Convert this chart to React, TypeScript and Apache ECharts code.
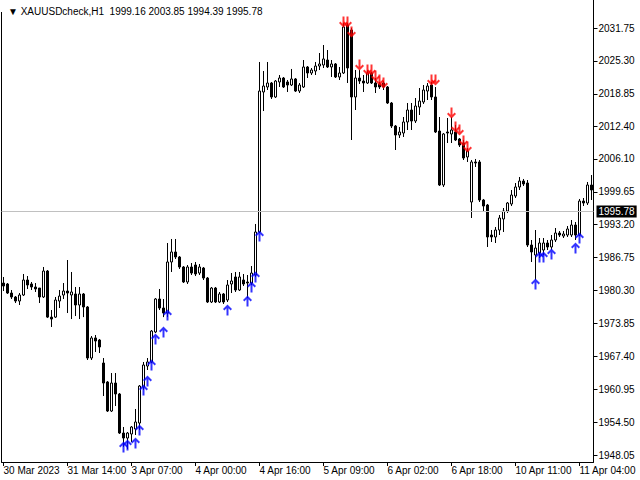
import React, { useEffect, useRef } from "react";
import * as echarts from "echarts";

const titleText = "▼ XAUUSDcheck,H1  1999.16 2003.85 1994.39 1995.78";
const xTickLabels = ["30 Mar 2023", "31 Mar 14:00", "3 Apr 07:00", "4 Apr 00:00", "4 Apr 16:00", "5 Apr 09:00", "6 Apr 02:00", "6 Apr 18:00", "10 Apr 11:00", "11 Apr 04:00"];
const yTickValues = [1948.05, 1954.5, 1960.95, 1967.4, 1973.85, 1980.3, 1986.75, 1993.2, 1999.65, 2006.1, 2012.4, 2018.85, 2025.3, 2031.75];
const lastPrice = 1995.78;

const opens = [
  1981.77, 1981.58, 1979.81, 1979.03, 1978.24, 1979.42, 1982.36, 1981.58, 1980.99, 1980.79,
  1979.03, 1984.12, 1975.09, 1975.09, 1978.24, 1979.42, 1980.20, 1979.42, 1979.62, 1977.46,
  1979.62, 1977.07, 1967.07, 1971.00, 1970.60, 1966.09, 1962.37, 1956.68, 1962.17, 1960.02,
  1952.37, 1951.39, 1952.18, 1953.16, 1954.33, 1961.39, 1965.50, 1966.29, 1972.17, 1978.64,
  1976.87, 1975.89, 1985.89, 1987.85, 1986.87, 1984.91, 1981.97, 1984.91, 1985.30, 1983.73,
  1984.71, 1982.75, 1978.05, 1980.79, 1978.05, 1979.62, 1978.44, 1981.58, 1982.95, 1980.40,
  1982.36, 1981.97, 1981.77, 1983.34, 1991.77, 2019.21, 2020.19, 2020.97, 2018.23, 2021.17,
  2021.95, 2021.17, 2020.58, 2021.76, 2019.40, 2020.19, 2024.11, 2022.93, 2023.32, 2024.30,
  2024.50, 2025.48, 2024.11, 2024.70, 2022.15, 2022.93, 2032.34, 2031.36, 2018.23, 2021.95,
  2021.36, 2020.97, 2022.93, 2020.97, 2020.78, 2020.97, 2020.19, 2017.05, 2012.54, 2010.78,
  2011.17, 2013.33, 2015.68, 2013.52, 2016.27, 2017.25, 2019.40, 2020.58, 2018.23, 2011.56,
  2000.98, 2011.37, 2010.98, 2011.37, 2010.00, 2009.21, 2006.47, 1997.65, 2005.49, 2005.49,
  1998.04, 1997.06, 1991.18, 1990.79, 1992.16, 1994.32, 1995.88, 1997.26, 1998.82, 2000.59,
  2001.76, 2001.37, 1989.22, 1987.26, 1987.65, 1988.24, 1989.61, 1988.83, 1990.20, 1991.57,
  1990.98, 1991.18, 1991.18, 1993.14, 1991.18, 1997.84, 1997.45, 2000.98,
];
const closes = [
  1981.18, 1979.81, 1979.03, 1978.24, 1979.42, 1982.36, 1981.38, 1980.99, 1980.60, 1979.03,
  1984.12, 1975.09, 1974.71, 1978.44, 1979.22, 1980.20, 1979.81, 1980.01, 1977.46, 1979.62,
  1977.07, 1967.07, 1971.00, 1970.40, 1969.23, 1962.17, 1956.68, 1962.17, 1960.02, 1952.37,
  1951.39, 1952.37, 1953.55, 1954.53, 1961.58, 1965.70, 1966.29, 1972.36, 1978.64, 1976.87,
  1975.89, 1985.89, 1987.85, 1986.87, 1984.91, 1981.97, 1984.91, 1983.73, 1983.54, 1984.91,
  1982.75, 1978.05, 1980.79, 1978.05, 1979.62, 1978.05, 1981.38, 1982.17, 1980.40, 1982.95,
  1981.58, 1981.77, 1983.73, 1991.77, 2019.40, 2020.38, 2020.97, 2018.23, 2021.36, 2021.95,
  2020.19, 2020.58, 2021.76, 2019.40, 2020.58, 2024.11, 2022.93, 2023.52, 2024.30, 2024.70,
  2025.68, 2024.11, 2024.70, 2022.15, 2022.93, 2031.95, 2023.91, 2018.23, 2021.95, 2021.36,
  2020.97, 2022.93, 2020.97, 2020.19, 2020.19, 2020.19, 2017.05, 2012.54, 2010.78, 2011.37,
  2013.33, 2015.68, 2013.52, 2016.46, 2017.44, 2019.60, 2020.38, 2018.23, 2011.37, 2000.98,
  2010.98, 2011.17, 2011.76, 2009.80, 2008.82, 2006.27, 2007.64, 2005.49, 2005.29, 1998.04,
  1996.86, 1990.79, 1990.79, 1992.16, 1994.51, 1995.88, 1997.45, 1999.02, 2000.59, 2001.76,
  2001.18, 1989.22, 1987.85, 1988.63, 1989.61, 1989.61, 1988.83, 1990.20, 1991.57, 1991.18,
  1991.38, 1992.36, 1993.14, 1991.18, 1997.84, 1997.45, 2000.98, 2000.00,
];
const lows = [
  1980.20, 1979.62, 1978.64, 1977.85, 1977.46, 1979.22, 1980.60, 1980.40, 1980.01, 1977.85,
  1978.83, 1974.91, 1973.15, 1974.91, 1976.87, 1978.64, 1975.89, 1974.71, 1975.30, 1974.71,
  1975.09, 1966.68, 1966.68, 1968.25, 1968.05, 1959.62, 1956.49, 1956.49, 1957.66, 1952.18,
  1949.63, 1949.24, 1950.61, 1951.98, 1952.96, 1960.80, 1964.72, 1966.09, 1971.97, 1976.48,
  1975.09, 1975.09, 1983.93, 1986.48, 1984.52, 1981.77, 1981.58, 1983.34, 1983.14, 1983.34,
  1982.36, 1977.85, 1977.85, 1977.85, 1977.85, 1977.66, 1978.05, 1979.81, 1980.01, 1980.20,
  1981.18, 1978.83, 1981.38, 1982.95, 1991.57, 2015.48, 2019.60, 2017.84, 2018.03, 2020.19,
  2019.99, 2019.21, 2020.38, 2019.21, 2019.01, 2019.99, 2021.95, 2022.54, 2022.54, 2023.52,
  2023.91, 2023.91, 2022.15, 2021.95, 2021.56, 2022.74, 2020.97, 2009.80, 2015.68, 2020.78,
  2019.21, 2020.78, 2020.78, 2019.01, 2019.80, 2019.60, 2016.86, 2012.15, 2007.84, 2010.19,
  2010.39, 2011.76, 2011.76, 2013.13, 2014.70, 2016.86, 2017.64, 2017.64, 2011.17, 2000.78,
  2000.59, 2009.21, 2009.21, 2009.60, 2008.43, 2005.88, 2005.49, 1994.51, 2004.51, 1997.65,
  1995.88, 1988.83, 1989.81, 1989.61, 1991.18, 1991.77, 1995.49, 1996.86, 1998.43, 2000.00,
  2000.78, 1988.83, 1985.89, 1982.36, 1986.67, 1987.26, 1988.24, 1988.24, 1989.81, 1990.79,
  1990.59, 1990.79, 1990.79, 1990.20, 1990.98, 1996.86, 1997.06, 1998.04,
];
const highs = [
  1982.95, 1981.77, 1980.40, 1979.22, 1979.81, 1983.54, 1983.14, 1981.97, 1981.77, 1980.79,
  1984.91, 1984.32, 1976.48, 1979.03, 1980.40, 1981.77, 1986.28, 1983.93, 1980.99, 1980.99,
  1979.81, 1977.26, 1971.38, 1971.58, 1970.80, 1967.07, 1962.56, 1964.13, 1964.13, 1960.21,
  1953.55, 1952.57, 1953.74, 1957.08, 1961.78, 1966.29, 1967.07, 1972.56, 1978.83, 1980.60,
  1978.64, 1989.61, 1990.40, 1990.40, 1987.06, 1985.10, 1985.30, 1985.69, 1985.89, 1985.50,
  1984.91, 1982.95, 1980.99, 1980.99, 1980.01, 1979.81, 1982.36, 1983.73, 1983.93, 1983.93,
  1983.54, 1983.34, 1985.10, 1993.34, 2025.09, 2023.32, 2025.09, 2021.17, 2021.56, 2022.54,
  2022.15, 2021.56, 2023.72, 2021.95, 2020.97, 2025.48, 2024.30, 2023.91, 2025.09, 2026.85,
  2028.42, 2027.44, 2025.48, 2024.89, 2024.11, 2032.73, 2032.73, 2031.75, 2023.52, 2023.52,
  2022.54, 2023.52, 2023.13, 2021.95, 2021.17, 2021.36, 2020.38, 2017.25, 2012.74, 2012.35,
  2014.31, 2017.05, 2017.05, 2018.03, 2019.99, 2020.58, 2020.97, 2021.17, 2020.19, 2014.31,
  2011.17, 2014.11, 2014.31, 2012.74, 2010.19, 2009.80, 2008.23, 2005.88, 2006.08, 2005.88,
  1998.24, 1997.26, 1992.16, 1992.75, 1995.10, 1996.47, 1997.65, 2000.00, 2001.37, 2002.55,
  2002.16, 2001.96, 1990.20, 1992.16, 1990.59, 1990.59, 1990.20, 1991.18, 1992.55, 1991.96,
  1991.96, 1992.94, 1994.12, 1993.73, 1998.24, 1998.43, 2001.57, 2002.94,
];

const upArrowBars = [30, 31, 33, 34, 35, 36, 37, 38, 40, 41, 56, 61, 62, 63, 64, 133, 134, 135, 137, 143, 144];
const upArrowPrices = [1949.63, 1950.02, 1950.41, 1952.96, 1960.80, 1962.56, 1965.70, 1970.80, 1972.17, 1975.50, 1976.48, 1978.24, 1980.99, 1982.95, 1990.98, 1981.58, 1986.87, 1986.87, 1987.46, 1988.63, 1990.59];
const downArrowBars = [85, 86, 87, 89, 91, 92, 93, 94, 95, 107, 108, 112, 113, 114, 115, 116];
const downArrowPrices = [2032.93, 2032.93, 2030.97, 2024.50, 2023.52, 2023.52, 2022.34, 2021.56, 2020.97, 2021.56, 2021.56, 2015.09, 2012.35, 2011.76, 2009.60, 2008.43];

const UP_ARROW = "path://M4.5,0 L9,4.5 L7.6,5.9 L5.5,3.8 L5.5,11 L3.5,11 L3.5,3.8 L1.4,5.9 L0,4.5 Z";
const DOWN_ARROW = "path://M4.5,11 L9,6.5 L7.6,5.1 L5.5,7.2 L5.5,0 L3.5,0 L3.5,7.2 L1.4,5.1 L0,6.5 Z";

export default function App() {
  const ref = useRef<HTMLDivElement>(null);
  useEffect(() => {
    if (!ref.current) return;
    const chart = echarts.init(ref.current, null, { renderer: "svg" });
    const font = "'Liberation Sans', Arial, sans-serif";
    const categories = opens.map((_, i) => String(i));
    const candles = opens.map((o, i) => [o, closes[i], lows[i], highs[i]]);
    const showTick = (i: number) => i % 16 === 0;
    const yMin = 1946.69;
    const yMax = 2037.24;
    chart.setOption({
      animation: false,
      backgroundColor: "#ffffff",
      textStyle: { fontFamily: font },
      title: {
        text: titleText,
        left: 3,
        top: 1,
        textStyle: { fontSize: 10, fontWeight: "normal", color: "#000", fontFamily: font },
      },
      grid: { left: 1.5, top: 0, width: 592, height: 462, containLabel: false },
      graphic: [
        {
          type: "line",
          silent: true,
          shape: { x1: 1.5, y1: 12, x2: 1.5, y2: 462 },
          style: { stroke: "#000", lineWidth: 1 },
        },
      ],
      xAxis: {
        type: "category",
        data: categories,
        boundaryGap: true,
        axisLine: { show: true, lineStyle: { color: "#000", width: 1 } },
        axisTick: { show: true, interval: (i: number) => showTick(i), alignWithLabel: true, length: 4, lineStyle: { color: "#000" } },
        axisLabel: {
          interval: (i: number) => showTick(i),
          formatter: (_v: string, i: number) => xTickLabels[i / 16] ?? "",
          align: "left",
          margin: 3,
          fontSize: 10,
          color: "#000",
          fontFamily: font,
        },
        splitLine: { show: false },
      },
      yAxis: {
        type: "value",
        position: "right",
        min: yMin,
        max: yMax,
        axisLine: { show: true, lineStyle: { color: "#000", width: 1 } },
        axisTick: { show: true, customValues: yTickValues, length: 4, lineStyle: { color: "#000" } },
        axisLabel: {
          customValues: yTickValues,
          formatter: (v: number) => v.toFixed(2),
          fontSize: 10,
          color: "#000",
          margin: 5,
          fontFamily: font,
        },
        splitLine: { show: false },
      },
      series: [
        {
          type: "candlestick",
          data: candles,
          barWidth: 2,
          itemStyle: {
            color: "#ffffff",
            color0: "#000000",
            borderColor: "#000000",
            borderColor0: "#000000",
            borderWidth: 1,
          },
          markLine: {
            silent: true,
            symbol: ["none", "none"],
            lineStyle: { color: "#c0c0c0", type: "solid", width: 1 },
            label: {
              show: true,
              position: "end",
              formatter: lastPrice.toFixed(2),
              color: "#ffffff",
              backgroundColor: "#000000",
              padding: [1, 2, 1, 2],
              fontSize: 10,
              fontFamily: font,
              distance: 3,
            },
            data: [{ yAxis: lastPrice }],
          },
        },
        {
          type: "scatter",
          symbol: UP_ARROW,
          symbolSize: [9, 11],
          itemStyle: { color: "#0000ff" },
          data: upArrowBars.map((b, i) => [b, upArrowPrices[i]]),
          z: 5,
        },
        {
          type: "scatter",
          symbol: DOWN_ARROW,
          symbolSize: [9, 11],
          itemStyle: { color: "#ff0000" },
          data: downArrowBars.map((b, i) => [b, downArrowPrices[i]]),
          z: 5,
        },
      ],
    });
    return () => chart.dispose();
  }, []);
  return <div ref={ref} style={{ position: "fixed", left: 0, top: 0, width: 640, height: 480 }} />;
}
